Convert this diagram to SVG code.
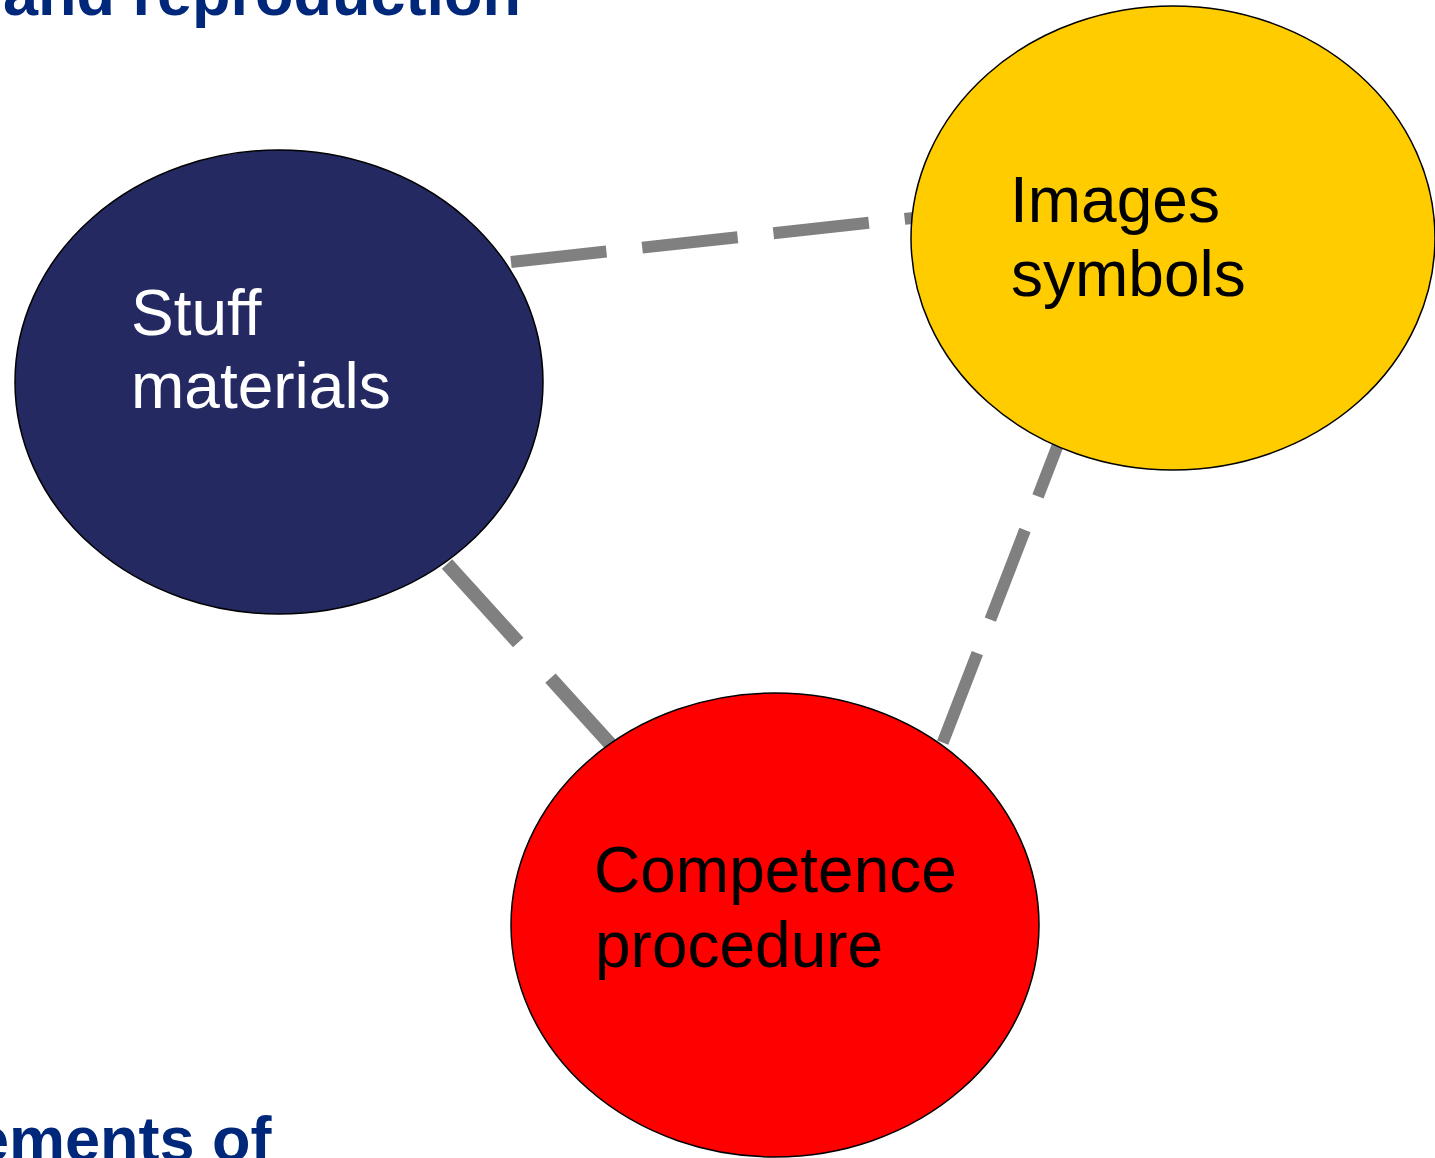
<svg xmlns="http://www.w3.org/2000/svg" width="1435" height="1158" viewBox="0 0 1435 1158">
<style>
.title{font-family:"Liberation Sans",Arial,sans-serif;font-weight:bold;font-size:63px;fill:#00287A}
.lbl{font-family:"Liberation Sans",Arial,sans-serif;font-size:64px}
.conn{stroke:#808080;fill:none;stroke-linecap:butt}
.node{stroke:#000;stroke-width:1.5}
</style>
<rect width="1435" height="1158" fill="#fff"/>
<text class="title" x="3" y="15">and reproduction</text>
<text class="title" x="-26" y="1161">ements of</text>
<g id="connectors">
<line class="conn" x1="511" y1="262" x2="922" y2="217" stroke-width="12" stroke-dasharray="96 36"/>
<line class="conn" x1="447" y1="564" x2="622" y2="757" stroke-width="14" stroke-dasharray="106 48"/>
<line class="conn" x1="1072.6" y1="406.9" x2="942.7" y2="742.7" stroke-width="12" stroke-dasharray="96 36"/>
</g>
<g id="stuff">
<ellipse class="node" cx="279" cy="382" rx="264" ry="232" fill="#242A61"/>
<text class="lbl" fill="#fff"><tspan x="131" y="335">Stuff</tspan><tspan x="131" y="408">materials</tspan></text>
</g>
<g id="images">
<ellipse class="node" cx="1173" cy="238" rx="262" ry="232" fill="#FFCC00"/>
<text class="lbl" fill="#000"><tspan x="1010" y="222">Images</tspan><tspan x="1011" y="296">symbols</tspan></text>
</g>
<g id="competence">
<ellipse class="node" cx="775" cy="925" rx="264" ry="232" fill="#FF0000"/>
<text class="lbl" fill="#000"><tspan x="594" y="892">Competence</tspan><tspan x="595" y="967">procedure</tspan></text>
</g>
</svg>
